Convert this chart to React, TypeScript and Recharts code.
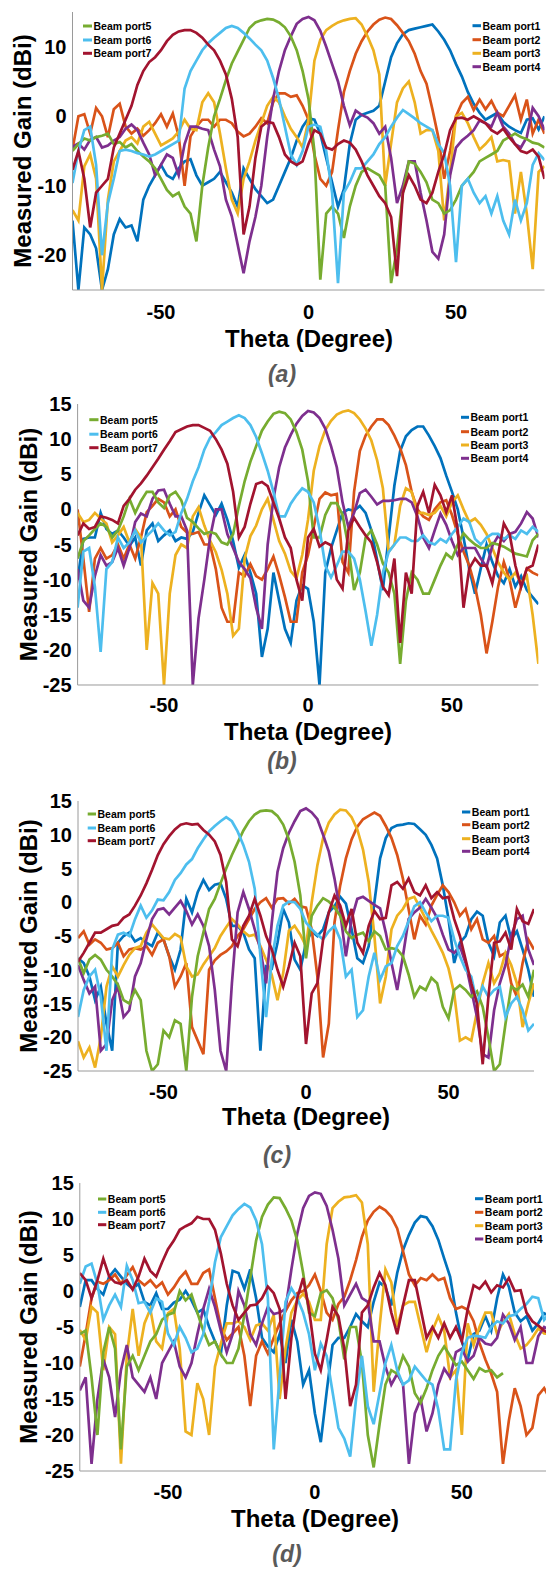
import React from 'react';
import { LineChart, Line, XAxis, YAxis } from 'recharts';

const thetaDeg = [
  -80, -78, -76, -74, -72, -70, -68, -66, -64, -62,
  -60, -58, -56, -54, -52, -50, -48, -46, -44, -42,
  -40, -38, -36, -34, -32, -30, -28, -26, -24, -22,
  -20, -18, -16, -14, -12, -10, -8, -6, -4, -2,
  0,
  2, 4, 6, 8, 10, 12, 14, 16, 18, 20,
  22, 24, 26, 28, 30, 32, 34, 36, 38, 40,
  42, 44, 46, 48, 50, 52, 54, 56, 58, 60,
  62, 64, 66, 68, 70, 72, 74, 76, 78, 80,
];

const portNames = ['Beam port1', 'Beam port2', 'Beam port3', 'Beam port4', 'Beam port5', 'Beam port6', 'Beam port7'];
const portColors = ['#0072BD', '#D95319', '#EDB120', '#7E2F8E', '#77AC30', '#4DBEEE', '#A2142F'];

// (a)
const aPort1 = [
  -15, -25, -16, -17, -19, -25, -22, -17, -14.8, -16,
  -15.7, -18, -12, -10, -8.5, -7, -8.5, -9, -7.5, -6.5,
  -6.2, -8.5, -10, -9.5, -9, -8, -9.5, -11, -13, -7.5,
  -9, -10.5, -11.5, -12.5, -12, -10, -8, -6, -3.5, -1.5,
  -0.3,
  -0.5, -2.5, -6, -9.5, -13, -10.5, -4, -0.5, 0.2, 0.5,
  0.8, 1.5, 5, 8.5, 10.5, 11.8, 12.4, 12.6, 12.8, 13,
  13.2, 12.2, 11, 9.5, 7.5, 5.7, 3.5, 1.8, 0.5, -0.5,
  0, 0.5, -0.8, -1.5, -2, -2.4, -0.5, -0.3, -1.9, 0,
];
const aPort2 = [
  -4.8, 0, 0.3, -2.5, 1.2, 0, -3, 1, 1.8, -1.5,
  -2.5, -1.8, -2.8, -2, -1, 0.3, -1.5, 0.4, -2.9, -10,
  -2.9, -1.5, -0.5, -0.5, -1.5, -0.5, -0.5, -1, -2.2, -2.9,
  -2.5, -1.5, -0.3, -1, 2, 3.3, 3.3, 2.8, 3, 1.5,
  -0.5,
  -5.5, -9, -10, -8, -2, 3.5, 6.5, 9, 10.8, 12.2,
  13.2, 13.9, 14.2, 14, 13.1, 12, 10.8, 9, 6.5, 4.7,
  1, -3, -9, -5, 0, 1.9, 2.8, 0.9, 2.4, 1,
  2.2, 0.5, 0, 1.5, 3, -0.5, 2.4, -2.5, -0.5, -2.5,
];
const aPort3 = [
  -13.5, -15, -7.2, -5.5, -9, -25, -12, -6.5, -5, -3.5,
  -3, -3.9, -1.5, -0.8, -2.5, -4.2, -3.7, -3.2, -2.2, -0.5,
  -1.8, -2, 2, 3.3, 2, -2.5, -7.5, -12, -14, -9,
  -6.5, -3.5, -1, 1.5, 2.8, 2, 0, -1.8, -3, -4.5,
  -0.5,
  8, 11, 12.4, 13, 13.5, 13.8, 14, 14.1, 13.2, 11.5,
  9.5, 6, -10, -3.9, 2, 4, 5, 2, -2.5, -2,
  -2, -5, -15, -8, 0, 0.5, -1, -3, -4.8, -4,
  -3, -6.5, -6.3, -6.5, -14, -8, -14, -22, -8, -7.2,
];
const aPort4 = [
  -4.4, -3.9, -4.8, -3.4, -3, -4.5, -4.2, -3.5, -3, -1.8,
  -1.2, -2, -3.8, -5.5, -8.5, -7, -5.5, -6, -8.5, -4,
  -1.5, -1.5, -1.8, -2, -4.8, -7.2, -12, -14.4, -18.5, -22.6,
  -18, -14.5, -10, -3, 2.5, 6.5, 9.5, 11.5, 13.3, 14,
  14.3,
  13.8, 12.3, 10, 7.5, 5, 1.5, -1.3, 0.8, 0.2, -0.2,
  -1, -2.5, -1.5, -6, -12.5, -10, -6.5, -6.5, -11, -15,
  -19.5, -20.5, -17, -8.5, -4.5, -3.5, -2.8, -2, -0.6, -1,
  -1.5, 0.5, -1.5, -2.5, -4, -4.5, -3, 1.2, 0, -2,
];
const aPort5 = [
  -5, -4, -3.2, -3.5, -3, -2.8, -2.5, -4, -3.7, -4.5,
  -4, -5, -5.8, -6.5, -7.5, -9, -10.6, -11.5, -11, -13,
  -14, -18, -10, -4.5, 0, 2.5, 5.2, 7.6, 9.3, 11,
  12.7, 13.5, 13.8, 14, 13.9, 13.5, 12.8, 11.5, 9.5, 6.5,
  2.5,
  -5, -23.5, -14, -13, -14, -17.5, -13, -10, -8, -7.5,
  -8, -8.5, -10, -24, -19, -11, -6.5, -6.8, -8, -9.5,
  -12, -12.5, -14, -13.5, -12, -10, -9, -8, -6.5, -6,
  -5.5, -5, -3.5, -3, -2.5, -3, -3.3, -3.8, -4, -4.5,
];
const aPort6 = [
  -9.6, -5, -2, -1.5, -7, -20, -12.5, -9, -5, -4.8,
  -5, -5.3, -5.5, -5.8, -5.5, -5, -4.5, -4, -3.5, 4,
  6.5, 8, 9.5, 10.5, 11.3, 12, 12.7, 13, 12.7, 12,
  11.2, 10.3, 9.5, 8, 5.5, 2.5, -1.5, -5.5, -7, -5,
  -1.5,
  -1.2, -1.5, -5, -11, -24, -11, -9.5, -7.5, -7.5, -6.5,
  -5.5, -4, -3, -1.5, -0.2, 0.9, 0.3, -0.3, -1, -1.5,
  -2, -4, -5.3, -10, -21, -10, -9, -11, -12.5, -11.5,
  -14, -11.5, -15, -17, -12, -15, -12.5, -7, -5.3, -6.3,
];
const aPort7 = [
  -7.7, -5, -9, -16, -11, -10, -9, -4.5, -2.5, -0.5,
  1.5, 4.5, 6.5, 7.8, 8.5, 9.5, 10.8, 11.7, 12.2, 12.4,
  12.4, 12, 11.3, 10.3, 9.5, 8, 6, 2.5, -3, -17,
  -13, -6, -1.5, -0.8, -1, -3, -5.5, -6.5, -7, -6.5,
  -4,
  -2, -2.5, -4.5, -4.8, -4, -3.5, -3.8, -4.8, -6.5, -8.5,
  -10, -11.5, -12.5, -14.5, -23, -11, -8.5, -10, -12, -12.5,
  -11, -8, -5.5, -2, -0.3, -0.2, -0.5, 0, -0.5, -1,
  -2, -2.5, -1.8, -3, -4, -5, -5.3, -4.8, -5.8, -9,
];

// (b)
const bPort1 = [
  -10, -4.2, -4, -4, -0.5, -2.8, -3.5, -3, -4, -5.2,
  -4, -8, -3, -2, -4.5, -3.7, -3, -4.5, -4, -4.2,
  -3.2, -0.5, 2, 0.6, -0.8, 0.8, -1.5, -4.5, -8.3, -6.5,
  -9, -12, -21, -17, -9, -13, -17, -19, -13, -10.8,
  -11.3,
  -16, -25, -9, -5.5, -3, -0.5, 0, -0.2, 0.5, -0.5,
  -3, -7.2, -11.5, -4, 3.4, 8.3, 10.4, 11.3, 11.8, 11.8,
  10.5, 9, 7.3, 4.8, 2.5, 0, -4, -8.5, -12, -8.4,
  -5, -7.5, -9.5, -10.5, -8.5, -11, -9.5, -11.5, -12.5, -13.5,
];
const bPort2 = [
  0, -7, -14.6, -7, -5.5, -7, -6.5, -5, -7, -5,
  -7, -4, -0.4, 0.5, 1.5, 1, -1, 0, -2.5, -3.3,
  -3.5, -3.2, -5, -5, -8.5, -14, -16, -16, -9, -9.5,
  -7.8, -9.5, -10, -8.5, -6.7, -9.4, -12.5, -16, -16, -9,
  -6.5,
  -2.5, 1.5, 2.4, 2, 2.2, -7.5, -9, 2.5, 8.3, 10.5,
  11.8, 12.8, 12.8, 12, 10.5, 8.7, 6.3, 2.5, 0, -1,
  -1.5, 0, 1, 1.3, -0.8, -3.5, -6, -8, -11, -15,
  -20.5, -16, -11, -7.5, -10, -14, -11, -8.4, -9, -9.4,
];
const bPort3 = [
  -0.5, -1.8, -1.5, -0.5, -1.3, -2, -4.7, -3.7, -2.5, -4.7,
  -2.8, -4, -20, -10.5, -12, -25, -12, -6.5, -5, -5.5,
  -1, 0.3, -2.3, -4.5, -6.1, -8.6, -12, -18, -17, -7,
  -3.8, -2.3, 0, 1.5, -1.5, -4.5, -6.3, -8.8, -9.8, -6.5,
  -1.5,
  5.5, 9, 11.3, 12.6, 13.5, 13.9, 14.1, 13.7, 12.8, 11.5,
  9.8, 7, 3, -6, -5, 0.5, 3, 2.5, -0.5, -0.5,
  -0.8, -0.5, 0.5, -1, 1, 2, 0, -1.8, -1.3, -2.2,
  -3.5, -5.5, -7.5, -9, -10, -9, -10.5, -9.5, -15, -22,
];
const bPort4 = [
  -8.5, -13, -14, -9.5, -6.5, -8, -7.5, -5.5, -8, -5.5,
  -1.8, -0.6, -1, 1.5, 2.7, 2.8, 0.8, -1, -1, -3,
  -25, -15.5, -10, -4, 0, 0, -3.5, -5.5, -7.5, -8.5,
  -9.8, -14, -17, -5, 1.5, 6, 8.8, 10.6, 12.2, 13.3,
  14,
  13.8, 13, 11.5, 9, 6, 1, -2.5, -0.5, 2.3, 2.8,
  1.8, 0.7, 1.2, 1.2, 1.3, 1.5, 1.5, 1, -1, -4,
  -5.5, -3, -0.6, -2.2, -4.5, -6.5, -5.5, -5.5, -5.5, -7,
  -8.2, -5.2, -3.8, -4.5, -3.5, -3.2, -2, -0.4, -1.3, -4,
];
const bPort5 = [
  -7, -4.5, -3.7, -2.8, -2, -2.5, -4, -3, -1, 1.5,
  -0.5, 1.2, 2.5, 2.5, 1, 0.2, 2, 2.5, 1.3, -1.2,
  -1.8, -2.7, -3.5, -3.2, -3.5, -4.7, -5, -3.5, 0.5, 4,
  6.8, 9, 11.2, 12.5, 13.6, 13.9, 13.7, 12.8, 11, 8.5,
  4,
  -4, -4, -0.8, 0.9, 0.9, -0.8, -5.3, -11.5, -9, -4,
  -3, -5, -7.7, -9, -12, -22, -13, -9, -10, -12,
  -12, -10, -8, -6.3, -7, -5, -3.4, -4.3, -5, -5.5,
  -5.5, -4.8, -5, -5.3, -5.8, -6.3, -6.5, -6.7, -4.4, -3.5,
];
const bPort6 = [
  -14, -6, -5.5, -11, -20.3, -8.5, -7.5, -4, -5.5, -4.7,
  -3, -4.7, -3.8, -3, -2, -3, -3.7, -3.2, -0.5, 1.5,
  4, 6, 8.5, 10.2, 11, 12, 12.5, 13, 13.4, 13,
  12, 10.3, 8, 5.5, 2.5, -1, -1, 0.8, 2, 3,
  2.5,
  1, -2.8, -8, -9.7, -8, -6, -6, -7, -10, -14.5,
  -19.4, -15, -9, -6.1, -5, -4, -4, -4.5, -4.5, -3.7,
  -4.7, -5, -4.2, -4.7, -3.5, -2.5, -1.3, -1.8, -4.2, -5,
  -4, -3.5, -3.5, -4.2, -3.7, -4.2, -3, -3.5, -2.5, -3.2,
];
const bPort7 = [
  -3.7, -2, -2.8, -2.5, -1, -1.2, -1.5, -2, 0.5, 1.5,
  2.8, 3.7, 4.8, 6, 7.2, 8.5, 9.7, 11, 11.4, 11.8,
  12, 12, 11.6, 11.2, 10, 8.5, 6.5, 2.5, -4, -2.5,
  0.8, 3.6, 3.9, 3.3, 1, -1.3, -4, -5.5, -10, -13,
  -4,
  -2.8, -5.3, -4.7, -5.1, -10, -11.3, -3, -1.2, -2.5, -3.7,
  -4.7, -7.5, -11, -12.2, -7, -19, -9, -12, 0.5, 2.5,
  -0.5, 3.5, 2, -0.4, 2, -3, -14, -8.4, -7, -8,
  -8, -10.5, -6.5, -2, -3.5, -8, -11, -8.4, -8, -5,
];

// (c)
const cPort1 = [
  -8.3, -9, -11, -14.5, -12.5, -18, -22, -6, -5, -4.5,
  -5.8, -5.3, -6, -6.5, -4.5, -5.5, -8, -10, -7, 0.5,
  -1.5, 1.5, 3.3, 1.8, 2.6, 2.8, 0.5, -3.5, -3.5, -4.5,
  -7, -8.3, -22, -9.5, -9.8, -6, -1, -3, -8.5, -10,
  -6,
  -4.3, -5, -4, -1.5, -0.6, 0.8, -0.2, -4, -8.3, -9,
  -6.5, 0, 6.5, 9.5, 11, 11.4, 11.5, 11.7, 11.6, 10.8,
  10, 8.5, 6.5, 2.5, -2.5, -9, -6, -5, -2.5, -1.4,
  -2, -6, -8, -3, -2, -5.5, -4.3, -7, -10, -14,
];
const cPort2 = [
  -5.3, -4.3, -6.3, -5.5, -6, -7, -6.8, -6, -8, -7,
  -6.8, -7, -6.5, -7.8, -6, -5.5, -8, -12.5, -11, -9,
  -18.5, -20.5, -22.5, -10, -8.6, -7.8, -7.3, -6.5, -5, -4,
  -2.5, -1, 0, 0.6, -0.8, 0.5, 0.6, -0.2, 0.5, -0.6,
  -0.8,
  -4, -11, -23, -18, -3, 2.5, 6.5, 9.3, 11.2, 12.3,
  12.8, 13.3, 12.8, 11.3, 9.5, 7, 3.5, -1, -5.5, -2,
  -3.3, -0.5, 1.1, 2.5, 1.5, 0, -2, -1, -4, -2.5,
  -5.5, -6, -5, -8, -7.5, -12, -14, -9, -5.5, -7,
];
const cPort3 = [
  -20.6, -23, -21.5, -24.5, -20, -12.5, -9.5, -11, -9.3, -7.8,
  -6.8, -6.5, -4.5, -3.3, -4.3, -5.3, -5.5, -4.7, -5.2, -9.5,
  -11, -10.7, -9.2, -8, -6.8, -5, -3.7, -2.5, -3.3, -4.3,
  -5, -4.8, -6.5, -8.5, -10.8, -14.5, -10.5, -4.2, -3.5, -4.8,
  -6.5,
  0, 5.5, 9.5, 11.8, 13, 13.7, 13.6, 12.6, 10.8, 7.8,
  3, -5, -15, -11, -4, -2, -1, 0.5, 0.8, -0.8,
  -2.5, -4.2, -5.8, -7.5, -9.8, -13.5, -20.5, -20, -20.5, -16.2,
  -12, -9, -12, -10.5, -7.5, -9.3, -12, -18.5, -15, -12,
];
const cPort4 = [
  -9.3, -11.5, -13.5, -12.5, -22, -21, -14.5, -12.5, -17, -16,
  -11, -9, -5.5, -2.5, -1.1, -0.9, -1.8, -0.8, 0.2, -1.3,
  -3.3, -1.8, -3.5, -6.5, -13, -22, -25, -12, -1.5, 1.5,
  -1, -4, -7, -12, -3, 4.5, 8, 10.3, 12, 13.5,
  13.9,
  13.3, 12.3, 10, 7.5, 3.5, -1.5, -8, -2.5, 0.5, 0.8,
  0.2, -0.4, -0.9, -4.5, -9, -13, -8, -2.5, -1.5, -0.8,
  0.5, -0.8, -2.3, -4.8, -7, -7.5, -6.5, -9, -13, -17,
  -22.5, -23, -16, -12, -9.3, -5, -2.5, -2, -7, -9.3,
];
const cPort5 = [
  -8.3, -10.5, -8.5, -7.8, -8.5, -10, -11, -12.2, -14.5, -15,
  -13, -14.5, -22, -25, -24, -19, -20, -17.5, -18, -25,
  -14, -8, -4.5, -1, 0.5, 2.8, 5, 7, 8.8, 10.6,
  12, 13, 13.5, 13.6, 13.5, 12.8, 11.5, 9.3, 6, 1,
  -8.3,
  -2, -0.5, 0.6, 0.1, -0.8, -2, -4.3, -5.3, -4.8, -4.5,
  -5.8, -4.3, -5, -7, -6.8, -7, -8, -10.7, -14, -12.5,
  -13, -11.2, -12, -15.5, -17.2, -13, -12.3, -13, -14, -13.2,
  -15.5, -20, -25, -24, -18, -12.5, -13, -12.2, -14, -10,
];
const cPort6 = [
  -17, -13, -11, -10, -14, -22, -7, -4.8, -4.5, -5,
  -2.5, -0.5, -2.3, -1.2, 0.4, 0.3, 1.5, 3.3, 4.3, 5.6,
  6.4, 8, 9.3, 10.5, 11.3, 12, 12.6, 12, 10.5, 8.5,
  6, 2, -8, -17, -8.5, -3.5, -0.5, 0.1, 0, -1,
  -3,
  -4, -4.8, -5.5, -4.3, -3.5, -5.5, -11, -10, -17, -16,
  -11, -7.5, -11.5, -9.5, -9, -6.5, -5, -2.8, -0.6, 0,
  -1.5, -2.8, -2, -2, -2.3, -5.5, -8, -10, -11, -15,
  -12.5, -14, -13, -12.5, -17, -15, -14, -16, -19, -18,
];
const cPort7 = [
  -8.8, -7.5, -6, -4.5, -4.5, -4, -3.5, -3.3, -2.3, -1.8,
  -0.5, 1, 2.8, 4.8, 7, 8.6, 9.8, 10.8, 11.5, 11.7,
  11.5, 11.6, 10.7, 10, 9, 7, 3, -5.5, -6.5, -3.5,
  -2, 0.5, -2, -5, -7, -10, -12.5, -9.5, -6, -8,
  -21,
  -13.5, -12, -5.5, -1.5, 1, -0.5, -3.5, -1, -6, -7.5,
  -3.5, -1.3, -2.5, -2.3, 2.5, 3, 2, 3.5, 1.5, 1,
  2.5, 0.6, 1.5, 0.6, 0.8, -2.5, -5, -8.5, -12, -15,
  -24, -14, -6, -5.8, -4.5, -7, -1, -2.8, -3.2, -1,
];

// (d)
const dPort1 = [
  -2.2, 1.5, 1.5, 0.3, -0.5, 2, 3, 2, 1, 0.3,
  1, -1.5, -2, -0.3, -2.5, -2.5, -1.6, -1.2, 0, -1.3,
  -3, -2.5, -5, -7, -8.7, -2, 2.8, 2.5, 0.3, 3,
  -1, -6.5, -7.7, -8.5, -6, -10, -4, -7, -13, -11,
  -17,
  -21, -14, -7.5, -6.5, -6.5, -5, -3.2, -4.2, -5, -1.5,
  1.2, 0.5, -2, 2.5, 5.7, 7.8, 9.5, 10.4, 10.2, 9,
  7.1, 4.5, 2, -3, -7, -9.5, -6, -5.5, -3.5, -5.5,
  -1, 2.3, 0.6, -3, -4.2, -3.5, -5.5, -4.5, -3.1, -3.5,
];
const dPort2 = [
  -10.5, -6, -1, 1.3, 1, 1.5, 2.3, 1, 2.2, 3.3,
  1.5, 0.8, 1.5, 0.5, 1.2, -0.5, 0.5, 1.8, 2.7, 1,
  1, 2.5, 3, -1, -5, -6.8, -5.9, -5, -9, -16,
  -9, -7, -8.7, -6.5, -4.5, -2.8, -1.3, -0.3, 0, 0.8,
  2.3,
  0, -3, -4, -1.8, -0.8, 1.5, 4.3, 7.5, 9.8, 11,
  11.7, 11.2, 10.3, 8.7, 5.5, 2.3, 0.8, 1.8, 1.5, 2.3,
  1.5, 1.8, -1, -2.5, -2.2, -2.6, -4.2, -7.2, -9.5, -11.5,
  -14, -24, -18, -13.5, -16, -20, -19, -14.5, -13.5, -15,
];
const dPort3 = [
  -5.4, -6.8, -2.2, -3, -11, -5, -6, -24, -9, -2.5,
  -9, -4.5, -2.5, -7, -8, -3.1, -2.5, -8, -19.5, -20,
  -12.8, -15, -20, -10.5, -7.3, -4.5, -4.5, -4.2, -5, -6.8,
  -4.8, -4.5, -5.5, -3.3, -15, -8, -3, -1.3, -0.4, -1.5,
  -4,
  -4, 6.5, 11.5, 12.4, 13, 13.1, 13.3, 12.3, 6.5, -14,
  -5, 3, 1.2, -5, -2, -1.5, -1.5, -5, -8.5, -5.5,
  -3.5, -5.5, -12, -11, -20, -4.5, -7.5, -5, -3, -3,
  -6, -4.3, -3.2, -6, -8, -7.5, -6.5, -5.2, -5.9, -6,
];
const dPort4 = [
  -13.8, -12, -24, -15, -9.5, -12, -17.5, -11, -7.5, -12,
  -13, -14, -12, -15, -10, -8.5, -7, -10.5, -12, -10,
  -6, -2.5, 0.3, -2.2, -5.5, -8.5, -6, 0, -2, -6,
  -7.5, -4.5, -2.2, -3.2, -3, -2.5, 3, 8, 11.5, 13.2,
  13.7,
  13.5, 11.8, 8.5, 4.5, -2, -0.5, 1, -1, -1.5, -7,
  -7, -10.5, -13, -11.5, -13, -24, -17, -15, -19.5, -17,
  -13, -10.8, -12, -8.5, -8, -9.8, -9, -6.5, -7.3, -7.5,
  -6.5, -3.3, -4.5, -6.8, -5, -10, -10, -6.3, -5, -5.5,
];
const dPort5 = [
  -6, -5.5, -12, -20, -8.5, -5, -8, -22, -10.5, -9,
  -11, -9, -7, -6, -4, -3.3, -3, 0, -1.3, -0.5,
  -3, -5.5, -7.5, -7, -8.8, -10, -10, -8, -3.3, 1.8,
  7, 10.3, 12, 13, 12.9, 11.5, 9.8, 7, 2.5, -3,
  -3.5,
  -0.3, 0.1, -1, -4, -9.5, -5, -5, -10, -20, -24.5,
  -18.5, -13, -11, -11.5, -9, -10.5, -14.2, -15.5, -13.5, -11,
  -9, -7.7, -9, -10.3, -9.8, -11, -12.2, -10.7, -11.2, -11,
  -12, -11.4, null, null, null, null, null, null, null, null,
];
const dPort6 = [
  1, 3.4, 3.8, 1, -4, -2, -0.5, -2.2, 3.5, 1.5,
  -1.7, -1.5, -3, -1, -1.5, -5.9, -7.5, -5, -6.5, -8.5,
  -8, -6, -1.5, 4, 7.5, 9, 10.5, 11.4, 12.1, 11.6,
  9.8, 6.5, -1, -22, -12, -1.5, 0.4, -1, -3, -6,
  -11,
  -7.3, -9, -14, -19, -20.5, -23, -15, -9, -16, -18.5,
  -14.2, -10, -7.5, -11, -13, -12.4, -10.5, -11.5, -12.5, -13,
  -16.5, -22, -22, -12.4, -8.5, -6.5, -6.2, -6.3, -6.5, -5,
  -4.2, -4.5, -3.5, -3.3, -2.5, -1.8, -0.8, -1, -4, -3,
];
const dPort7 = [
  2.5, 1.5, -1, 1.5, 4.5, 2, 1.2, 1, 1.5, 0.2,
  2, 4.5, 2.8, 2, 4, 5.8, 7, 8.5, 9, 9.4,
  10.3, 10, 10, 8.5, 5.2, 1, -2, -4, -3, -2,
  -1.9, -1, 0.6, -0.3, -2.5, -15, -6.5, -1, 1.8, -2.5,
  -8.7,
  -11, -6.8, -2.2, -3.5, -8, -16, -13, -3, -2, 0.5,
  2.5, 0.8, -3, -6, -2, 1.5, 1.5, -2.5, -6.5, -5,
  -6.5, -4.5, -6.5, -5, -7, -2.5, 0.8, 0.3, 1.3, -0.2,
  0.8, 0.5, 1.8, 0, 0.1, -3, -4.2, -4.8, -5.5, -6,
];

const ticksCoarse = [-20, -10, 0, 10];
const ticksFine = [-25, -20, -15, -10, -5, 0, 5, 10, 15];
const thetaTicks = [-50, 0, 50];

const FONT = '"Liberation Sans", Arial, Helvetica, sans-serif';
const BOX = '#9a9a9a';

const panels = [
  {
    caption: '(a)', series: [aPort1, aPort2, aPort3, aPort4, aPort5, aPort6, aPort7],
    left: 72.5, right: 544.5, top: 12, bottom: 290, yTicks: ticksCoarse, xGap: 15,
    yLabelX: 31, xTitle: [309, 347], cap: [282, 382],
    legL: { x1: 83, x2: 92, tx: 93.5, rows: [26, 40, 53.3] },
    legR: { x1: 472.5, x2: 481, tx: 482.5, rows: [25.7, 39.7, 53.3, 66.7] },
  },
  {
    caption: '(b)', series: [bPort1, bPort2, bPort3, bPort4, bPort5, bPort6, bPort7],
    left: 77.6, right: 538.4, top: 404, bottom: 685, yTicks: ticksFine, xGap: 13,
    yLabelX: 37, xTitle: [308, 740], cap: [282, 769],
    legL: { x1: 89.3, x2: 98.5, tx: 100, rows: [419.7, 434.2, 447.7] },
    legR: { x1: 461, x2: 469, tx: 470.5, rows: [417.3, 431.7, 445, 458.3] },
  },
  {
    caption: '(c)', series: [cPort1, cPort2, cPort3, cPort4, cPort5, cPort6, cPort7],
    left: 78, right: 534, top: 801, bottom: 1071, yTicks: ticksFine, xGap: 14,
    yLabelX: 37, xTitle: [306, 1125], cap: [277, 1163],
    legL: { x1: 87.7, x2: 96, tx: 97.5, rows: [814, 828, 840.7] },
    legR: { x1: 462, x2: 470.3, tx: 471.8, rows: [812, 824.7, 838.7, 851.3] },
  },
  {
    caption: '(d)', series: [dPort1, dPort2, dPort3, dPort4, dPort5, dPort6, dPort7],
    left: 79.8, right: 550, top: 1183, bottom: 1471, yTicks: ticksFine, xGap: 14,
    yLabelX: 37, xTitle: [315, 1527], cap: [287, 1562],
    legL: { x1: 98, x2: 106.3, tx: 107.8, rows: [1199, 1212.3, 1224.7] },
    legR: { x1: 475, x2: 483.3, tx: 484.8, rows: [1198.7, 1212.3, 1225.7, 1239] },
  },
];

const tickStyle = { fill: '#000', fontSize: 20, fontWeight: 700, fontFamily: FONT };

function Panel({ p }: { p: any }) {
  const rows = thetaDeg.map((t, i) => {
    const r: Record<string, any> = { theta: t };
    p.series.forEach((s: (number | null)[], k: number) => {
      r['p' + (k + 1)] = s[i];
    });
    return r;
  });
  const mTop = 10;
  const axisH = 40;
  const plotH = p.bottom - p.top;
  return (
    <div style={{ position: 'absolute', left: 0, top: p.top - mTop }}>
      <LineChart
        width={p.right + 2}
        height={mTop + plotH + axisH}
        data={rows}
        margin={{ top: mTop, right: 2, bottom: 0, left: 0 }}
      >
        <XAxis
          xAxisId="b" type="number" dataKey="theta" domain={[-80, 80]} ticks={thetaTicks}
          height={axisH} tickSize={0} tickMargin={p.xGap} tickLine={false}
          axisLine={{ stroke: BOX }} tick={tickStyle} allowDataOverflow
        />
        <XAxis
          xAxisId="t" orientation="top" type="number" dataKey="theta" domain={[-80, 80]} ticks={thetaTicks}
          height={0} mirror tick={false} tickSize={5} axisLine={{ stroke: BOX }} tickLine={{ stroke: BOX }}
        />
        <YAxis
          yAxisId="l" type="number" domain={[-25, 15]} ticks={p.yTicks} width={p.left}
          tickSize={0} tickMargin={6} tickLine={false} axisLine={{ stroke: BOX }} tick={tickStyle}
          allowDataOverflow interval={0}
        />
        <YAxis
          yAxisId="r" orientation="right" type="number" domain={[-25, 15]} ticks={p.yTicks} width={0}
          mirror tick={false} tickSize={5} axisLine={{ stroke: BOX }} tickLine={{ stroke: BOX }}
        />
        {portNames.map((name, k) => (
          <Line
            key={name}
            xAxisId="b"
            yAxisId="l"
            type="linear"
            dataKey={'p' + (k + 1)}
            name={name}
            stroke={portColors[k]}
            strokeWidth={2.7}
            dot={false}
            activeDot={false}
            isAnimationActive={false}
          />
        ))}
      </LineChart>
    </div>
  );
}

function Labels() {
  const legText = { fontSize: 10.5, fontWeight: 700, fontFamily: FONT, fill: '#000' };
  return (
    <svg
      width={546}
      height={1569}
      style={{ position: 'absolute', left: 0, top: 0, pointerEvents: 'none' }}
    >
      {panels.map((p) => {
        const cy = (p.top + p.bottom) / 2;
        const left = [4, 5, 6];
        const right = [0, 1, 2, 3];
        return (
          <g key={p.caption}>
            <text
              x={p.yLabelX} y={cy} transform={`rotate(-90 ${p.yLabelX} ${cy})`}
              textAnchor="middle" fontSize={24} fontWeight={700} fontFamily={FONT} fill="#000"
            >
              Measured Gain (dBi)
            </text>
            <text
              x={p.xTitle[0]} y={p.xTitle[1]} textAnchor="middle"
              fontSize={24} fontWeight={700} fontFamily={FONT} fill="#000"
            >
              Theta (Degree)
            </text>
            <text
              x={p.cap[0]} y={p.cap[1]} textAnchor="middle"
              fontSize={23} fontStyle="italic" fontWeight={700} fontFamily={FONT} fill="#5a5a5a"
            >
              {p.caption}
            </text>
            {left.map((k, j) => (
              <g key={'l' + k}>
                <line x1={p.legL.x1} x2={p.legL.x2} y1={p.legL.rows[j]} y2={p.legL.rows[j]} stroke={portColors[k]} strokeWidth={3} />
                <text x={p.legL.tx} y={p.legL.rows[j]} dominantBaseline="central" {...legText}>{portNames[k]}</text>
              </g>
            ))}
            {right.map((k, j) => (
              <g key={'r' + k}>
                <line x1={p.legR.x1} x2={p.legR.x2} y1={p.legR.rows[j]} y2={p.legR.rows[j]} stroke={portColors[k]} strokeWidth={3} />
                <text x={p.legR.tx} y={p.legR.rows[j]} dominantBaseline="central" {...legText}>{portNames[k]}</text>
              </g>
            ))}
          </g>
        );
      })}
    </svg>
  );
}

export default function App() {
  return (
    <div
      style={{
        position: 'absolute', left: 0, top: 0, width: 546, height: 1569,
        overflow: 'hidden', background: '#fff',
      }}
    >
      {panels.map((p) => (
        <Panel key={p.caption} p={p} />
      ))}
      <Labels />
    </div>
  );
}
